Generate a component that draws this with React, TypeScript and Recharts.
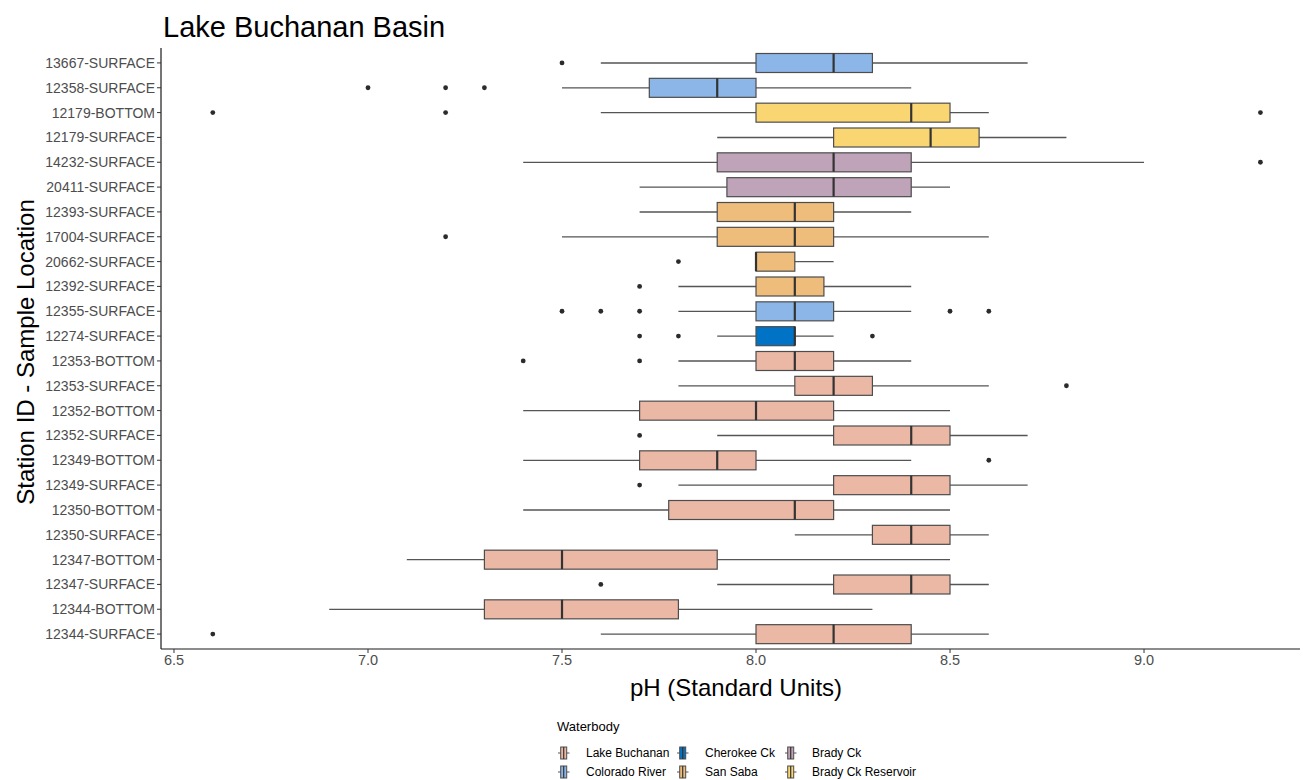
import { ComposedChart, Bar, Scatter, XAxis, YAxis } from 'recharts'

const stations = [
  '13667-SURFACE',
  '12358-SURFACE',
  '12179-BOTTOM',
  '12179-SURFACE',
  '14232-SURFACE',
  '20411-SURFACE',
  '12393-SURFACE',
  '17004-SURFACE',
  '20662-SURFACE',
  '12392-SURFACE',
  '12355-SURFACE',
  '12274-SURFACE',
  '12353-BOTTOM',
  '12353-SURFACE',
  '12352-BOTTOM',
  '12352-SURFACE',
  '12349-BOTTOM',
  '12349-SURFACE',
  '12350-BOTTOM',
  '12350-SURFACE',
  '12347-BOTTOM',
  '12347-SURFACE',
  '12344-BOTTOM',
  '12344-SURFACE',
]

const waterbody = [
  'Colorado River',
  'Colorado River',
  'Brady Ck Reservoir',
  'Brady Ck Reservoir',
  'Brady Ck',
  'Brady Ck',
  'San Saba',
  'San Saba',
  'San Saba',
  'San Saba',
  'Colorado River',
  'Cherokee Ck',
  'Lake Buchanan',
  'Lake Buchanan',
  'Lake Buchanan',
  'Lake Buchanan',
  'Lake Buchanan',
  'Lake Buchanan',
  'Lake Buchanan',
  'Lake Buchanan',
  'Lake Buchanan',
  'Lake Buchanan',
  'Lake Buchanan',
  'Lake Buchanan',
]

// box plot stats, same order as stations
const whiskerLow = [7.6, 7.5, 7.6, 7.9, 7.4, 7.7, 7.7, 7.5, 8.0, 7.8, 7.8, 7.9, 7.8, 7.8, 7.4, 7.9, 7.4, 7.8, 7.4, 8.1, 7.1, 7.9, 6.9, 7.6]
const q1 = [8.0, 7.725, 8.0, 8.2, 7.9, 7.925, 7.9, 7.9, 8.0, 8.0, 8.0, 8.0, 8.0, 8.1, 7.7, 8.2, 7.7, 8.2, 7.775, 8.3, 7.3, 8.2, 7.3, 8.0]
const median = [8.2, 7.9, 8.4, 8.45, 8.2, 8.2, 8.1, 8.1, 8.0, 8.1, 8.1, 8.1, 8.1, 8.2, 8.0, 8.4, 7.9, 8.4, 8.1, 8.4, 7.5, 8.4, 7.5, 8.2]
const q3 = [8.3, 8.0, 8.5, 8.575, 8.4, 8.4, 8.2, 8.2, 8.1, 8.175, 8.2, 8.1, 8.2, 8.3, 8.2, 8.5, 8.0, 8.5, 8.2, 8.5, 7.9, 8.5, 7.8, 8.4]
const whiskerHigh = [8.7, 8.4, 8.6, 8.8, 9.0, 8.5, 8.4, 8.6, 8.2, 8.4, 8.4, 8.2, 8.4, 8.6, 8.5, 8.7, 8.4, 8.7, 8.5, 8.6, 8.5, 8.6, 8.3, 8.6]

const outlierStations = [
  '13667-SURFACE',
  '12358-SURFACE', '12358-SURFACE', '12358-SURFACE',
  '12179-BOTTOM', '12179-BOTTOM', '12179-BOTTOM',
  '14232-SURFACE',
  '17004-SURFACE',
  '20662-SURFACE',
  '12392-SURFACE',
  '12355-SURFACE', '12355-SURFACE', '12355-SURFACE', '12355-SURFACE', '12355-SURFACE',
  '12274-SURFACE', '12274-SURFACE', '12274-SURFACE',
  '12353-BOTTOM', '12353-BOTTOM',
  '12353-SURFACE',
  '12352-SURFACE',
  '12349-BOTTOM',
  '12349-SURFACE',
  '12347-SURFACE',
  '12344-SURFACE',
]
const outlierValues = [
  7.5,
  7.0, 7.2, 7.3,
  6.6, 7.2, 9.3,
  9.3,
  7.2,
  7.8,
  7.7,
  7.5, 7.6, 7.7, 8.5, 8.6,
  7.7, 7.8, 8.3,
  7.4, 7.7,
  8.8,
  7.7,
  8.6,
  7.7,
  7.6,
  6.6,
]

const xTicks = [6.5, 7.0, 7.5, 8.0, 8.5, 9.0]

const legendNames = ['Lake Buchanan', 'Colorado River', 'Cherokee Ck', 'San Saba', 'Brady Ck', 'Brady Ck Reservoir']

const waterbodyColors: Record<string, string> = {
  'Lake Buchanan': '#EBB8A6',
  'Colorado River': '#8DB6E8',
  'Cherokee Ck': '#0073C7',
  'San Saba': '#EEBC7B',
  'Brady Ck': '#BFA3B8',
  'Brady Ck Reservoir': '#FAD672',
}

const data = stations.map((station, i) => ({
  station,
  waterbody: waterbody[i],
  whisker: [whiskerLow[i], whiskerHigh[i]],
  box: [q1[i], q3[i]],
  median: median[i],
}))

const outliers = outlierStations.map((station, i) => ({ station, ph: outlierValues[i] }))

const FONT = '"Liberation Sans", Arial, sans-serif'
const BOX_H = 19

const WhiskerShape = (props: any) => {
  const { x, y, width, height } = props
  const cy = y + height / 2
  return <line x1={x} x2={x + width} y1={cy} y2={cy} stroke="#555" strokeWidth={1.3} />
}

const BoxShape = (props: any) => {
  const { x, y, width, height, payload } = props
  return (
    <rect
      x={x}
      y={y}
      width={width}
      height={height}
      fill={waterbodyColors[payload.waterbody]}
      stroke="#4d4d4d"
      strokeWidth={1.2}
    />
  )
}

const MedianShape = (props: any) => {
  const { cx, cy } = props
  return <line x1={cx} x2={cx} y1={cy - BOX_H / 2} y2={cy + BOX_H / 2} stroke="#333" strokeWidth={2.2} />
}

const OutlierShape = (props: any) => <circle cx={props.cx} cy={props.cy} r={2.4} fill="#2b2b2b" />

const LegendKey = ({ x, y, color }: { x: number; y: number; color: string }) => (
  <g>
    <line x1={x} x2={x + 11.5} y1={y} y2={y} stroke="#555" strokeWidth={1} />
    <rect x={x + 2.7} y={y - 6} width={6} height={12} fill={color} stroke="#4d4d4d" strokeWidth={1} />
    <line x1={x + 5.7} x2={x + 5.7} y1={y - 6} y2={y + 6} stroke="#333" strokeWidth={1.2} />
  </g>
)

const legendCols = [558, 677, 785]
const legendLabelX = [586, 705, 812]
const legendRows = [753, 772]

export default function App() {
  return (
    <div style={{ position: 'absolute', left: 0, top: 0, width: 1303, height: 780, background: '#fff' }}>
      <ComposedChart
        width={1303}
        height={780}
        data={data}
        layout="vertical"
        barSize={BOX_H}
        barGap={-BOX_H}
        margin={{ top: 48, right: 3, left: 0, bottom: 81 }}
      >
        <XAxis
          type="number"
          domain={[6.4665, 9.402]}
          allowDataOverflow
          ticks={xTicks}
          tickFormatter={(v: number) => v.toFixed(1)}
          height={50}
          tickSize={4}
          stroke="#333"
          axisLine={{ stroke: '#1a1a1a', strokeWidth: 1.2 }}
          tick={{ fill: '#4d4d4d', fontSize: 14.5, fontFamily: FONT }}
        />
        <YAxis
          type="category"
          dataKey="station"
          allowDuplicatedCategory={false}
          width={161}
          padding={{ top: 2.5, bottom: 2.5 }}
          interval={0}
          tickSize={4}
          stroke="#333"
          axisLine={{ stroke: '#1a1a1a', strokeWidth: 1.2 }}
          tick={{ fill: '#4d4d4d', fontSize: 14, fontFamily: FONT }}
        />
        <Bar dataKey="whisker" shape={<WhiskerShape />} isAnimationActive={false} />
        <Bar dataKey="box" shape={<BoxShape />} isAnimationActive={false} />
        <Scatter dataKey="median" shape={<MedianShape />} isAnimationActive={false} />
        <Scatter data={outliers} dataKey="ph" shape={<OutlierShape />} isAnimationActive={false} />
      </ComposedChart>

      <svg
        width={1303}
        height={780}
        style={{ position: 'absolute', left: 0, top: 0, pointerEvents: 'none' }}
        fontFamily={FONT}
      >
        <text x={163} y={37} fontSize={29} fill="#000">
          Lake Buchanan Basin
        </text>
        <text transform="translate(34,352) rotate(-90)" textAnchor="middle" fontSize={24} fill="#000">
          Station ID - Sample Location
        </text>
        <text x={736} y={696} textAnchor="middle" fontSize={24} fill="#000">
          pH (Standard Units)
        </text>
        <text x={557} y={731} fontSize={13} fill="#000">
          Waterbody
        </text>
        {legendNames.map((name, i) => {
          const col = Math.floor(i / 2)
          const row = i % 2
          return (
            <g key={name}>
              <LegendKey x={legendCols[col]} y={legendRows[row]} color={waterbodyColors[name]} />
              <text x={legendLabelX[col]} y={legendRows[row] + 4.3} fontSize={12} fill="#000">
                {name}
              </text>
            </g>
          )
        })}
      </svg>
    </div>
  )
}
